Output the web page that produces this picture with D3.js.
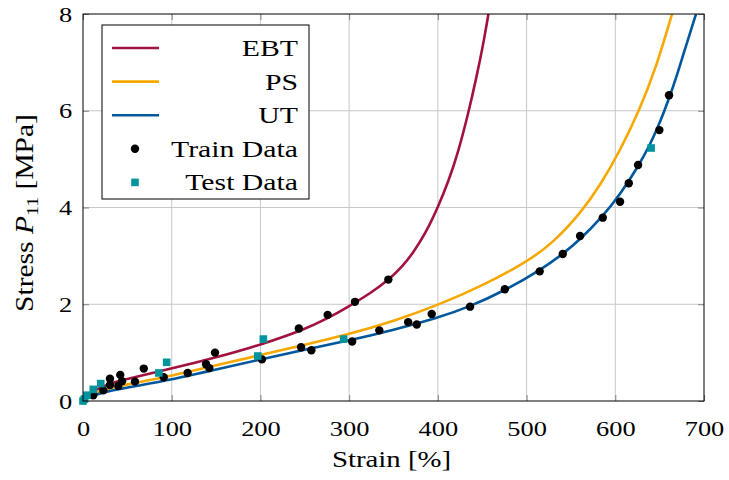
<!DOCTYPE html>
<html lang="en">
<head>
    <meta charset="UTF-8">
    <title>Stress vs Strain</title>
    <script src="https://d3js.org/d3.v7.min.js"></script>
    <style>
        body { margin: 0; background: #fff; }
    </style>
</head>
<body>
    <svg width="729" height="480"></svg>
    <script>
        // Model curves: [strain %, stress MPa]
        const ebtCurve = [[0,0],[10,0.2],[30,0.37],[60,0.5],[100,0.67],[150,0.9],[200,1.16],[250,1.48],
            [275,1.70],[300,1.96],[325,2.24],[345,2.51],[360,2.78],[372,3.06],[386,3.46],[400,4.0],
            [412,4.54],[423,5.15],[434,5.92],[444,6.73],[451,7.36],[457,8.0]];
        const psCurve = [[0,0],[10,0.15],[30,0.27],[60,0.38],[100,0.52],[150,0.74],[200,0.95],[250,1.16],
            [300,1.38],[350,1.65],[400,1.98],[450,2.38],[500,2.87],[530,3.27],[562,3.91],[583,4.46],
            [605,5.16],[627,6.0],[646,6.89],[664,8.0]];
        const utCurve = [[0,0],[10,0.11],[30,0.21],[60,0.31],[100,0.44],[150,0.65],[200,0.86],[250,1.06],
            [300,1.25],[350,1.47],[400,1.72],[436,1.95],[475,2.28],[515,2.7],[541,3.04],[560,3.33],
            [586,3.82],[605,4.26],[626,4.85],[640,5.33],[650,5.74],[661,6.27],[670,6.76],[680,7.36],[691,8.0]];

        const trainData = [[11.6,0.12],[22.9,0.22],[30.4,0.33],[30.4,0.46],[39.8,0.31],[42,0.54],[44,0.41],
            [58.6,0.40],[68.5,0.67],[91,0.49],[118,0.58],[138.7,0.76],[142.4,0.68],[148.8,1.00],
            [201.7,0.86],[243.3,1.50],[245.8,1.11],[257.4,1.05],[275.8,1.78],[303.4,1.23],[306.6,2.05],
            [334,1.46],[344.2,2.51],[366.5,1.63],[376.2,1.58],[393.1,1.80],[436.3,1.95],[475.5,2.31],
            [514.8,2.68],[540.8,3.04],[560.3,3.41],[585.9,3.79],[605.4,4.12],[615.2,4.50],[625.7,4.88],
            [649.7,5.60],[660.6,6.32]];
        const testData = [[0,0],[1.5,0.04],[4.5,0.12],[11.6,0.24],[20,0.36],[85.5,0.58],[94.3,0.80],
            [197,0.93],[203.3,1.28],[293.8,1.28],[640.4,5.23]];

        const xTicks = [0, 100, 200, 300, 400, 500, 600, 700];
        const yTicks = [0, 2, 4, 6, 8];

        const series = [
            { name: "EBT", data: ebtCurve, color: "#a2123f" },
            { name: "PS", data: psCurve, color: "#f7a800" },
            { name: "UT", data: utCurve, color: "#00579b" }
        ];
        const trainColor = "#000";
        const testColor = "#00959d";
        const font = "'Liberation Serif', 'DejaVu Serif', serif";
        const stretch = 1.2; // the reference's serif face is wider than Liberation

        const svg = d3.select("svg");
        const margin = { left: 83, right: 25, top: 14, bottom: 79 };
        const width = 729, height = 480;

        const x = d3.scaleLinear().domain([0, 700]).range([margin.left, width - margin.right]);
        const y = d3.scaleLinear().domain([0, 8]).range([height - margin.bottom, margin.top]);

        svg.append("clipPath").attr("id", "plot")
            .append("rect")
            .attr("x", x(0)).attr("y", y(8))
            .attr("width", x(700) - x(0)).attr("height", y(0) - y(8));

        // grid
        svg.append("g").selectAll("line")
            .data(xTicks.slice(1, -1))
            .join("line")
            .attr("x1", d => x(d)).attr("x2", d => x(d))
            .attr("y1", y(0)).attr("y2", y(8))
            .attr("stroke", "#c8c8c8").attr("stroke-width", 1);
        svg.append("g").selectAll("line")
            .data(yTicks.slice(1, -1))
            .join("line")
            .attr("x1", x(0)).attr("x2", x(700))
            .attr("y1", d => y(d)).attr("y2", d => y(d))
            .attr("stroke", "#c8c8c8").attr("stroke-width", 1);

        // axes with inward ticks
        const styleAxis = g => {
            g.attr("font-family", font).attr("font-size", 22);
            g.select(".domain").remove();
            g.selectAll(".tick line").attr("stroke", "#808080");
            g.selectAll("text").attr("fill", "#000").attr("transform", `scale(${stretch},1)`);
        };
        svg.append("g")
            .attr("transform", `translate(0,${y(0)})`)
            .call(d3.axisBottom(x).tickValues(xTicks).tickSize(-6).tickPadding(19).tickFormat(d3.format("d")))
            .call(styleAxis);
        svg.append("g")
            .attr("transform", `translate(${x(0)},0)`)
            .call(d3.axisLeft(y).tickValues(yTicks).tickSize(-6).tickPadding(9).tickFormat(d3.format("d")))
            .call(styleAxis);
        svg.append("g")
            .attr("transform", `translate(0,${y(8)})`)
            .call(d3.axisTop(x).tickValues(xTicks).tickSize(-6).tickFormat(""))
            .call(styleAxis);
        svg.append("g")
            .attr("transform", `translate(${x(700)},0)`)
            .call(d3.axisRight(y).tickValues(yTicks).tickSize(-6).tickFormat(""))
            .call(styleAxis);

        // curves
        const line = d3.line()
            .x(d => x(d[0])).y(d => y(d[1]))
            .curve(d3.curveBasis);
        const plot = svg.append("g").attr("clip-path", "url(#plot)");
        plot.selectAll("path.model")
            .data(series)
            .join("path")
            .attr("class", "model")
            .attr("d", d => line(d.data))
            .attr("fill", "none")
            .attr("stroke", d => d.color)
            .attr("stroke-width", 2.6);

        // data points
        svg.append("g").selectAll("circle")
            .data(trainData)
            .join("circle")
            .attr("cx", d => x(d[0])).attr("cy", d => y(d[1]))
            .attr("r", 4.2)
            .attr("fill", trainColor);
        svg.append("g").selectAll("rect")
            .data(testData)
            .join("rect")
            .attr("x", d => x(d[0]) - 3.8).attr("y", d => y(d[1]) - 3.8)
            .attr("width", 7.6).attr("height", 7.6)
            .attr("fill", testColor);

        // frame
        svg.append("rect")
            .attr("x", x(0)).attr("y", y(8))
            .attr("width", x(700) - x(0)).attr("height", y(0) - y(8))
            .attr("fill", "none").attr("stroke", "#000").attr("stroke-width", 1);

        // legend
        const legend = svg.append("g").attr("transform", "translate(102,25)");
        legend.append("rect")
            .attr("width", 207).attr("height", 174)
            .attr("fill", "#fff").attr("stroke", "#000").attr("stroke-width", 1);
        const rowY = i => 23 + i * 33.6;
        series.forEach((s, i) => {
            legend.append("line")
                .attr("x1", 10).attr("x2", 57)
                .attr("y1", rowY(i)).attr("y2", rowY(i))
                .attr("stroke", s.color).attr("stroke-width", 2.6);
        });
        legend.append("circle").attr("cx", 33).attr("cy", rowY(3)).attr("r", 4.2).attr("fill", trainColor);
        legend.append("rect").attr("x", 33 - 3.8).attr("y", rowY(4) - 3.8)
            .attr("width", 7.6).attr("height", 7.6).attr("fill", testColor);
        const legendNames = series.map(s => s.name).concat(["Train Data", "Test Data"]);
        legend.selectAll("text")
            .data(legendNames)
            .join("text")
            .attr("transform", (d, i) => `translate(196,${rowY(i) + 8}) scale(1.24,1)`)
            .attr("text-anchor", "end")
            .attr("font-family", font)
            .attr("font-size", 24)
            .text(d => d);

        // axis labels
        svg.append("text")
            .attr("transform", `translate(${(x(0) + x(700)) / 2 - 2},467) scale(${stretch},1)`)
            .attr("text-anchor", "middle")
            .attr("font-family", font)
            .attr("font-size", 24)
            .text("Strain [%]");

        const yl = svg.append("text")
            .attr("transform", `translate(33,213) rotate(-90) scale(1.18,1)`)
            .attr("text-anchor", "middle")
            .attr("font-family", font)
            .attr("font-size", 25);
        yl.append("tspan").text("Stress ");
        yl.append("tspan").attr("font-style", "italic").text("P");
        yl.append("tspan").attr("dy", 5).attr("font-size", 17).text("11");
        yl.append("tspan").attr("dy", -5).text(" [MPa]");
    </script>
</body>
</html>
